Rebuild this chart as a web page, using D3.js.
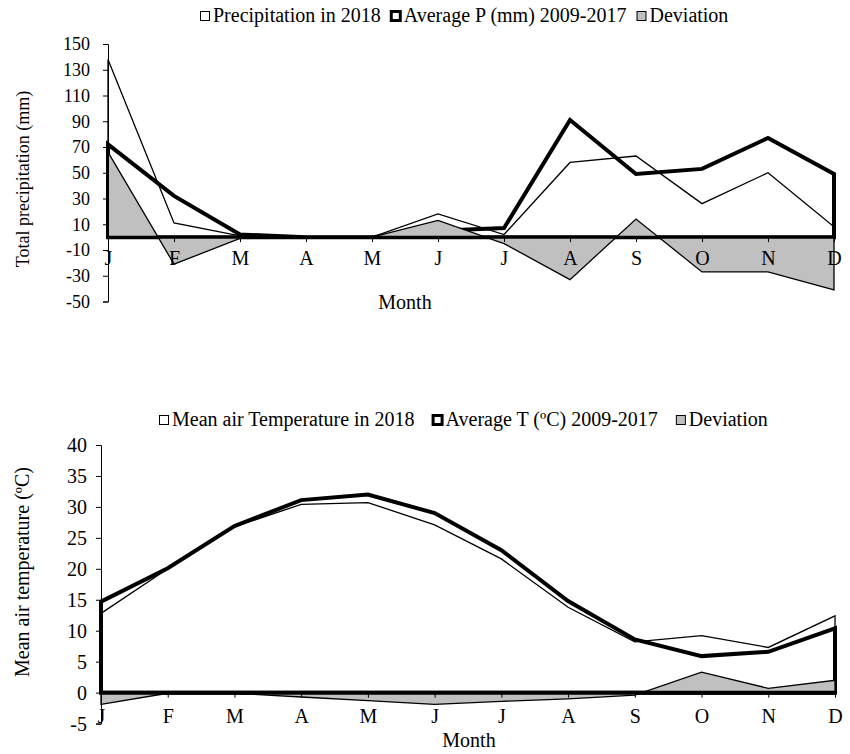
<!DOCTYPE html>
<html>
<head>
<meta charset="utf-8">
<script src="https://cdn.jsdelivr.net/npm/d3@7"></script>
<style>
  html, body { margin: 0; padding: 0; background: #fff; }
  svg { display: block; font-family: "Liberation Serif", "Times New Roman", serif; }
</style>
</head>
<body>
<svg id="chart" width="850" height="754"></svg>
<script>
// Month labels along the category axis
const months = ["J", "F", "M", "A", "M", "J", "J", "A", "S", "O", "N", "D"];

// Precipitation (mm)
const precip2018 = [138, 11, 1, 0, 0, 18, 2, 58, 63, 26, 50, 8];
const precipAvg  = [72, 32, 2, 0, 0, 5, 7, 91, 49, 53, 77, 49];
const precipDev  = [66, -21, -1, 0, 0, 13, -5, -33, 14, -27, -27, -41];
const precipTicks = [150, 130, 110, 90, 70, 50, 30, 10, -10, -30, -50];

// Mean air temperature (ºC)
const temp2018 = [12.8, 20.0, 26.8, 30.4, 30.7, 27.1, 21.6, 13.8, 8.2, 9.2, 7.3, 12.4];
const tempAvg  = [14.7, 20.1, 26.9, 31.1, 32.0, 29.0, 23.0, 14.8, 8.6, 5.9, 6.6, 10.4];
const tempDev  = [-1.9, -0.1, -0.1, -0.7, -1.3, -1.9, -1.4, -1.0, -0.4, 3.3, 0.7, 2.0];
const tempTicks = [40, 35, 30, 25, 20, 15, 10, 5, 0, -5];

const svg = d3.select("#chart");

function panel(cfg) {
  const g = svg.append("g");
  const x = d3.scalePoint().domain(d3.range(months.length)).range([cfg.x0, cfg.x1]);
  const y = d3.scaleLinear().domain(cfg.yDomain).range([cfg.yBottom, cfg.yTop]);

  const area = d3.area()
    .x((d, i) => x(i))
    .y0(y(0))
    .y1(d => y(d));

  // 2018 series: outline only
  g.append("path").datum(cfg.current)
    .attr("d", area)
    .attr("fill", "none")
    .attr("stroke", "#000")
    .attr("stroke-width", 1.3);

  // long-term average: heavy outline
  g.append("path").datum(cfg.average)
    .attr("d", area)
    .attr("fill", "none")
    .attr("stroke", "#000")
    .attr("stroke-width", 4);

  // deviation: grey filled area
  g.append("path").datum(cfg.deviation)
    .attr("d", area)
    .attr("fill", "#c0c0c0")
    .attr("stroke", "#000")
    .attr("stroke-width", 1.3);

  // category axis on the zero line
  const xAxis = g.append("g")
    .attr("transform", `translate(0,${y(0)})`)
    .call(d3.axisBottom(x).tickSize(5).tickFormat(i => months[i]));
  xAxis.select(".domain").remove();
  xAxis.selectAll(".tick line").attr("stroke", "#000").attr("stroke-width", 1);
  xAxis.selectAll(".tick text")
    .attr("y", cfg.catLabelOffset)
    .attr("dy", null)
    .attr("fill", "#000")
    .style("font-family", "Liberation Serif")
    .style("font-size", "20px");

  g.append("line")
    .attr("x1", cfg.x0).attr("x2", cfg.x1)
    .attr("y1", y(0)).attr("y2", y(0))
    .attr("stroke", "#000")
    .attr("stroke-width", cfg.zeroWidth);

  // value axis (plain hyphen for negatives)
  const yAxis = g.append("g")
    .attr("transform", `translate(${cfg.x0},0)`)
    .call(d3.axisLeft(y).tickValues(cfg.ticks).tickSize(5).tickPadding(cfg.tickPad).tickFormat(d => String(d)));
  yAxis.select(".domain").attr("stroke", "#000").attr("stroke-width", 1);
  yAxis.selectAll(".tick line").attr("stroke", "#000");
  yAxis.selectAll(".tick text")
    .attr("fill", "#000")
    .style("font-family", "Liberation Serif")
    .style("font-size", cfg.tickFont + "px");

  // axis titles
  g.append("text")
    .attr("transform", `translate(${cfg.yTitleX},${cfg.yTitleY}) rotate(-90)`)
    .attr("text-anchor", "middle")
    .style("font-size", cfg.yTitleFont + "px")
    .text(cfg.yTitle);

  g.append("text")
    .attr("x", cfg.xTitleX).attr("y", cfg.xTitleY)
    .attr("text-anchor", "middle")
    .style("font-size", "20px")
    .text("Month");

  // legend
  const leg = g.append("g");
  let lx = cfg.legendX;
  cfg.legend.forEach(item => {
    leg.append("rect")
      .attr("x", lx + 0.5).attr("y", cfg.legendY - 10.5)
      .attr("width", 9).attr("height", 9)
      .attr("fill", item.fill)
      .attr("stroke", "#000")
      .attr("stroke-width", item.heavy ? 3 : 1);
    const t = leg.append("text")
      .attr("x", lx + 13).attr("y", cfg.legendY)
      .style("font-size", "20px")
      .text(item.label);
    lx += 13 + t.node().getComputedTextLength() + cfg.legendGap;
  });
}

panel({
  x0: 108, x1: 834,
  yDomain: [-50, 150], yBottom: 301.5, yTop: 44,
  current: precip2018, average: precipAvg, deviation: precipDev,
  ticks: precipTicks, tickFont: 18, tickPad: 13,
  catLabelOffset: 28, zeroWidth: 3,
  yTitle: "Total precipitation (mm)", yTitleX: 29, yTitleY: 179, yTitleFont: 18,
  xTitleX: 405, xTitleY: 309,
  legendX: 200, legendY: 22, legendGap: 10,
  legend: [
    { label: "Precipitation in 2018", fill: "#fff", heavy: false },
    { label: "Average P (mm) 2009-2017", fill: "#fff", heavy: true },
    { label: "Deviation", fill: "#c0c0c0", heavy: false }
  ]
});

panel({
  x0: 101, x1: 835,
  yDomain: [-5, 40], yBottom: 723.6, yTop: 445,
  current: temp2018, average: tempAvg, deviation: tempDev,
  ticks: tempTicks, tickFont: 20, tickPad: 9,
  catLabelOffset: 30, zeroWidth: 4,
  yTitle: "Mean air temperature (ºC)", yTitleX: 29, yTitleY: 572, yTitleFont: 20,
  xTitleX: 469, xTitleY: 747,
  legendX: 159, legendY: 426, legendGap: 18,
  legend: [
    { label: "Mean air Temperature in 2018", fill: "#fff", heavy: false },
    { label: "Average T (ºC) 2009-2017", fill: "#fff", heavy: true },
    { label: "Deviation", fill: "#c0c0c0", heavy: false }
  ]
});
</script>
</body>
</html>
